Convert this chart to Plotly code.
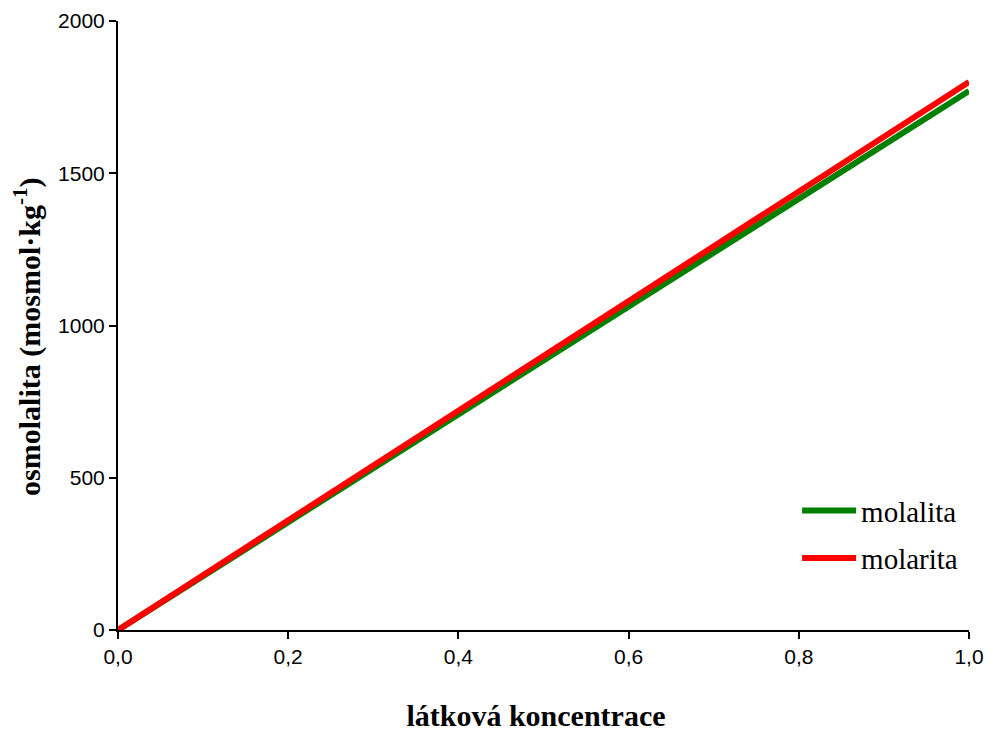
import plotly.graph_objects as go

conc = [0.0, 0.1, 0.2, 0.3, 0.4, 0.5, 0.6, 0.7, 0.8, 0.9, 1.0]
molalita = [0, 177, 354, 531, 708, 885, 1062, 1239, 1416, 1593, 1770]
molarita = [0, 180, 360, 540, 720, 900, 1080, 1260, 1440, 1620, 1800]

fig = go.Figure()
fig.add_trace(go.Scatter(x=conc, y=molalita, mode="lines", name="molalita", legendgroup="a",
                         line=dict(color="#008000", width=6)))
fig.add_trace(go.Scatter(x=conc, y=molarita, mode="lines", name="molarita", legendgroup="b",
                         line=dict(color="#ff0000", width=6)))

axis_common = dict(showgrid=False, zeroline=False, showline=True, linecolor="black",
                   linewidth=2, ticks="outside", ticklen=7, tickwidth=2, tickcolor="black",
                   automargin=False, ticklabeloverflow="allow",
                   tickfont=dict(family="Liberation Sans, Arial", size=21, color="black"))

title_font = dict(family="Liberation Serif, Times New Roman", size=30, color="black")

# page body has an 8px margin, so the figure is sized/offset to compensate
fig.update_layout(
    width=977, height=724,
    paper_bgcolor="white", plot_bgcolor="white",
    margin=dict(l=110, r=16, t=13, b=102),
    separators=",.",
    xaxis=dict(range=[0, 1], tickvals=[0, 0.2, 0.4, 0.6, 0.8, 1.0], tickformat=".1f",
               title=dict(text="<b>látková koncentrace</b>&nbsp;&nbsp;", standoff=40, font=title_font),
               **axis_common),
    yaxis=dict(range=[0, 2000], tickvals=[0, 500, 1000, 1500, 2000],
               title=dict(text="<b>osmolalita (mosmol·kg<sup>-1</sup>)</b>&nbsp;&nbsp;&nbsp;", standoff=25, font=title_font),
               **axis_common),
    legend=dict(x=0.798, y=0.238, xanchor="left", yanchor="top", bgcolor="rgba(0,0,0,0)",
                font=dict(family="Liberation Serif, Times New Roman", size=29, color="black"),
                itemwidth=54, tracegroupgap=7),
    showlegend=True,
)

fig.write_html("out.html")
